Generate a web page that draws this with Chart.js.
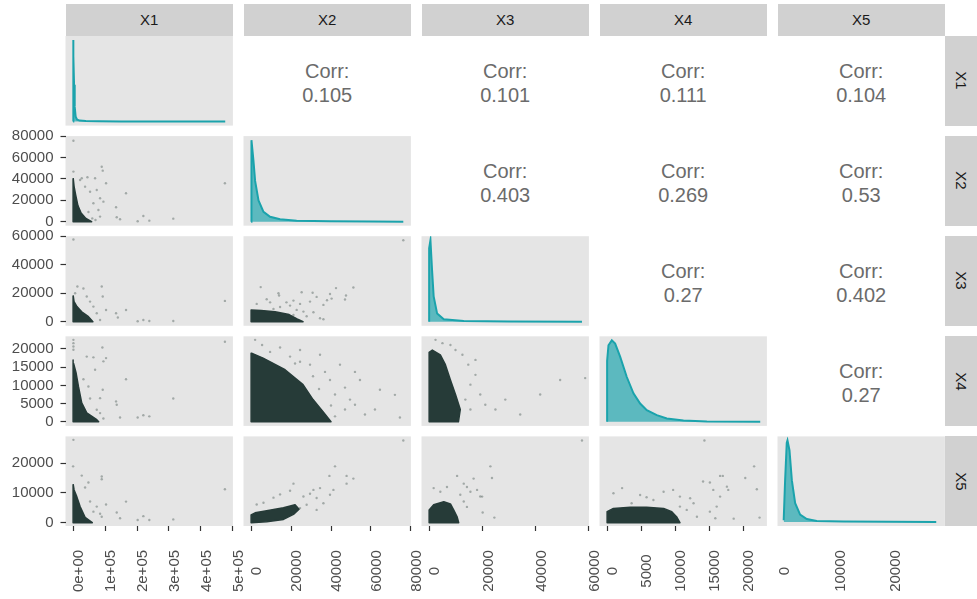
<!DOCTYPE html>
<html>
<head>
<meta charset="utf-8">
<title>ggpairs X1-X5</title>
<script src="https://cdn.jsdelivr.net/npm/chart.js@4.4.1/dist/chart.umd.min.js"></script>
<style>
  body { margin: 0; background: #fff; font-family: "Liberation Sans", Arial, sans-serif; }
  #plot { position: relative; width: 977px; height: 599px; overflow: hidden; }
  #plot canvas { position: absolute; }
  .strip { position: absolute; background: #D1D1D1; color: #1A1A1A; font-size: 15px;
           display: flex; align-items: center; justify-content: center; }
  .strip.right span { display: inline-block; transform: rotate(90deg); }
  .corr { position: absolute; color: #6B6B6B; font-size: 20px; line-height: 24px;
          display: flex; flex-direction: column; align-items: center; justify-content: center; }
</style>
</head>
<body>
<div id="plot"></div>
<script>
// variables and correlations (upper triangle, row by row)
const varNames = ['X1', 'X2', 'X3', 'X4', 'X5'];
const corrX1 = [0.105, 0.101, 0.111, 0.104];
const corrX2 = [0.403, 0.269, 0.53];
const corrX3 = [0.27, 0.402];
const corrX4 = [0.27];

// axis domains (same for a variable on x and y)
const axisMin = [-23790, -3810, -2870, -1120, -1111];
const axisMax = [500000, 80000, 60000, 23480, 28956];

const ticksX1 = [0, 100000, 200000, 300000, 400000, 500000];
const labelsX1 = ['0e+00', '1e+05', '2e+05', '3e+05', '4e+05', '5e+05'];
const ticksX2 = [0, 20000, 40000, 60000, 80000];
const ticksX3 = [0, 20000, 40000, 60000];
const ticksX4 = [0, 5000, 10000, 15000, 20000];
const ticksX5 = [0, 10000, 20000];

// diagonal densities [value, density relative to peak]
const densX1 = [[0, 0], [0, 1.0], [1500, 0.8], [3000, 0.45], [5000, 0.18], [8000, 0.06], [12000, 0.025],
  [20000, 0.012], [40000, 0.005], [80000, 0.002], [150000, 0.0005], [476000, 0]];
const densX2 = [[0, 0], [0, 0.92], [350, 1.0], [1170, 0.75], [2000, 0.5], [3700, 0.26], [6200, 0.12],
  [9500, 0.06], [14500, 0.03], [22800, 0.012], [39500, 0.005], [60000, 0.002], [76200, 0]];
const densX3 = [[0, 0], [0, 0.9], [490, 1.0], [1100, 0.63], [1700, 0.31], [3000, 0.10], [5500, 0.03],
  [13000, 0.008], [30000, 0.002], [57400, 0]];
const densX4 = [[0, 0], [0, 0.75], [200, 0.94], [690, 1.0], [1180, 0.96], [1910, 0.80], [2890, 0.55],
  [3870, 0.35], [4850, 0.225], [5830, 0.143], [7300, 0.082], [8770, 0.041], [11220, 0.017],
  [14660, 0.005], [22500, 0]];
const densX5 = [[0, 0.02], [250, 0.5], [550, 0.97], [680, 1.0], [1040, 0.88], [1470, 0.51], [2060, 0.23],
  [2950, 0.09], [4150, 0.036], [5940, 0.012], [10700, 0.004], [27400, 0]];

// scatter panels: dense core outline and the sparse points around it [x, y]
const coreX1X2 = [[0, 0], [58000, 0], [40000, 3000], [25000, 8000], [15000, 15000], [8000, 25000],
  [3000, 33000], [500, 40000], [0, 40000]];
const ptsX1X2 = [[1000, 75700], [89600, 51400], [92700, 47700], [103100, 35900], [165600, 26500],
  [134400, 13400], [136500, 4100], [146900, 2200], [202000, 400], [219800, 5300], [238500, 900],
  [313500, 2800], [475000, 35900], [68750, 40600], [44800, 41500], [27100, 40600], [74000, 29600],
  [84400, 21900], [94800, 18700], [63500, 17200], [79200, 10900], [84400, 4700], [21900, 39000],
  [37500, 32700], [53100, 28000], [1000, 46800], [60000, 3000], [70000, 1500], [48000, 9000]];

const coreX1X3 = [[0, 0], [62000, 0], [48000, 3500], [27000, 7000], [12000, 10600], [3000, 14000],
  [500, 18000], [0, 18000]];
const ptsX1X3 = [[1000, 57700], [13400, 24700], [6300, 20000], [89600, 24700], [92700, 17650],
  [103100, 8260], [165600, 8260], [134400, 5900], [140000, 3000], [202000, 300], [219800, 1200],
  [238500, 500], [313500, 500], [475000, 14600], [42700, 17650], [63500, 10600], [74000, 5900],
  [53100, 14100], [32300, 23300], [84400, 1200]];

const coreX1X4 = [[0, 0], [80000, 0], [74000, 600], [42700, 2460], [27000, 5200], [16700, 9700],
  [9400, 13400], [1500, 16000], [0, 17000]];
const ptsX1X4 = [[1000, 22500], [1000, 21600], [1000, 20700], [1000, 19800], [91600, 20400],
  [103100, 17500], [94800, 16600], [42700, 17900], [63500, 17700], [68750, 14300], [165600, 11700],
  [92700, 8800], [84400, 6500], [134400, 5600], [136500, 4700], [146900, 1200], [202000, 1200],
  [219800, 1800], [238500, 1500], [313500, 6400], [475000, 22000], [84400, 2400], [94800, 900],
  [74000, 3300], [53100, 6400], [47900, 9700], [32300, 11700]];

const coreX1X5 = [[0, 0], [60000, 0], [37500, 1800], [21900, 5400], [11500, 8750], [3100, 11000],
  [500, 12700], [0, 12700]];
const ptsX1X5 = [[1000, 27800], [0, 18900], [89600, 15500], [89600, 14600], [27100, 15800],
  [47900, 13500], [37500, 11800], [165600, 7070], [136500, 3400], [146900, 1500], [103100, 6100],
  [84400, 3000], [89600, 2000], [202000, 900], [219800, 2200], [238500, 900], [313500, 1100],
  [475000, 11200], [74000, 5400], [63500, 3700], [53100, 7100]];

const coreX2X3 = [[0, 0], [26000, 0], [23000, 2000], [19000, 5000], [12000, 7000], [5000, 7800], [0, 8200]];
const ptsX2X3 = [[76200, 57200], [4800, 24300], [13700, 20000], [14000, 18400], [25300, 20700],
  [30800, 20300], [42500, 23600], [51200, 24000], [47500, 18400], [47000, 15600], [39500, 19400],
  [40300, 16200], [32800, 17400], [36200, 11800], [29500, 14100], [24500, 12500], [21200, 14800],
  [19500, 11300], [17700, 13600], [31200, 6600], [34500, 2400], [36200, 1700], [27800, 3800],
  [7800, 15800], [9500, 13600], [2800, 12500], [11200, 9000], [22800, 8300], [26200, 7100],
  [21200, 4700], [38000, 15100], [14500, 10300]];

const coreX2X4 = [[0, 0], [40000, 0], [36000, 2800], [31000, 6100], [26000, 10200], [17000, 14300],
  [6000, 17500], [500, 18800], [0, 18800]];
const ptsX2X4 = [[2000, 22500], [5500, 21100], [24500, 19700], [34500, 18400], [44500, 15700],
  [52000, 13700], [54500, 11500], [64500, 8800], [72000, 7400], [49500, 6100], [47000, 3400],
  [57000, 2000], [74500, 1200], [39500, 11500], [29500, 15700], [14500, 20400], [9500, 19200],
  [42000, 7500], [47000, 9400], [52000, 4700], [62000, 3400], [19500, 17900], [24500, 16500],
  [37000, 13700], [42000, 1500], [40000, 4500], [34000, 9000], [31000, 12500], [22000, 16000]];

const coreX3X4 = [[0, 0], [11000, 0], [11700, 3400], [9900, 7500], [8000, 11500], [6100, 15700],
  [4200, 18400], [1200, 19700], [0, 19100]];
const ptsX3X4 = [[2400, 22500], [5000, 21600], [8000, 21100], [12500, 18400], [14700, 15700],
  [17400, 12900], [15500, 10200], [19200, 7500], [21100, 4700], [24900, 3400], [28600, 6100],
  [34200, 2000], [41700, 7500], [49200, 11500], [58600, 12000], [15500, 3400], [13600, 6100],
  [17400, 17000], [9900, 19700]];

const coreX2X5 = [[0, 0], [7800, 300], [16200, 1100], [21200, 2800], [24000, 4500], [22000, 6000],
  [16200, 5000], [7800, 4000], [2000, 3300], [0, 2600]];
const ptsX2X5 = [[76200, 27600], [42000, 18900], [39200, 15700], [47800, 15700], [51200, 14800],
  [47800, 13100], [34500, 11600], [31200, 11000], [29500, 9700], [21200, 13100], [19500, 10700],
  [14500, 9500], [11200, 8400], [6200, 6700], [2800, 6100], [26200, 8800], [32800, 8300],
  [36200, 6500], [39500, 9400], [41200, 11000], [27800, 6000], [24500, 4900], [32800, 4300]];

const coreX3X5 = [[0, 0], [11100, 0], [10500, 2000], [9200, 4300], [8000, 6300], [5500, 7000],
  [1700, 6000], [0, 4300]];
const ptsX3X5 = [[1700, 11600], [4200, 10400], [6700, 12000], [10500, 15700], [13000, 13100],
  [14200, 12000], [15500, 10400], [16700, 14800], [18000, 11000], [19200, 8800], [11700, 9400],
  [23000, 18900], [23600, 15000], [20100, 3400], [24500, 1700], [14200, 5300], [13000, 7100],
  [57400, 27600], [19900, 8750]];

const coreX4X5 = [[0, 0], [10700, 0], [10200, 2000], [9500, 3700], [8300, 4800], [5800, 5200],
  [3400, 5200], [930, 4800], [0, 3700]];
const ptsX4X5 = [[14300, 27600], [21600, 18900], [20300, 15000], [22000, 11200], [22400, 1700],
  [16600, 15700], [17000, 15700], [14100, 13800], [15100, 13500], [15600, 11000], [17600, 12100],
  [17800, 11000], [16600, 8750], [16100, 5400], [15100, 3700], [15900, 1500], [18600, 1350],
  [930, 9900], [2200, 11600], [6800, 7600], [8300, 10400], [9700, 11000], [10700, 8750],
  [12700, 6500], [11700, 4300], [13200, 2000], [4850, 9300], [3600, 6500], [5800, 8550],
  [10700, 5400], [12200, 8200]];

// layout of the panel grid (pixels)
const colLeft = [65.5, 243.5, 421.5, 599.5, 777.5];
const rowTop = [36, 136.1, 236.2, 336.3, 436.4];
const panelW = 167.4;
const panelH = 89.6;
const labelShift = [6, 6, 6, 5.5, 1];

const tickValues = [ticksX1, ticksX2, ticksX3, ticksX4, ticksX5];
const tickText = [labelsX1, ticksX2.map(String), ticksX3.map(String), ticksX4.map(String), ticksX5.map(String)];
const densities = [densX1, densX2, densX3, densX4, densX5];
const corrRows = [corrX1, corrX2, corrX3, corrX4];
const scatters = [
  { x: 0, y: 1, core: coreX1X2, pts: ptsX1X2 },
  { x: 0, y: 2, core: coreX1X3, pts: ptsX1X3 },
  { x: 1, y: 2, core: coreX2X3, pts: ptsX2X3 },
  { x: 0, y: 3, core: coreX1X4, pts: ptsX1X4 },
  { x: 1, y: 3, core: coreX2X4, pts: ptsX2X4 },
  { x: 2, y: 3, core: coreX3X4, pts: ptsX3X4 },
  { x: 0, y: 4, core: coreX1X5, pts: ptsX1X5 },
  { x: 1, y: 4, core: coreX2X5, pts: ptsX2X5 },
  { x: 2, y: 4, core: coreX3X5, pts: ptsX3X5 },
  { x: 3, y: 4, core: coreX4X5, pts: ptsX4X5 }
];

const FONT = '"Liberation Sans", Arial, sans-serif';
Chart.defaults.font.family = FONT;
const plot = document.getElementById('plot');

function addBox(cls, left, top, w, h, html) {
  const d = document.createElement('div');
  d.className = cls;
  d.style.left = left + 'px';
  d.style.top = top + 'px';
  d.style.width = w + 'px';
  d.style.height = h + 'px';
  d.innerHTML = html;
  plot.appendChild(d);
}

// strips on top and on the right
varNames.forEach((name, i) => {
  addBox('strip', colLeft[i], 3.5, panelW, 32, name);
  addBox('strip right', 945, rowTop[i], 32, panelH, '<span>' + name + '</span>');
});

// correlation text in the upper triangle
corrRows.forEach((vals, r) => {
  vals.forEach((v, k) => {
    const c = r + 1 + k;
    addBox('corr', colLeft[c], rowTop[r] + 2, panelW, panelH, '<div>Corr:</div><div>' + String(v) + '</div>');
  });
});

const panelBg = {
  id: 'panelBg',
  beforeDraw(chart) {
    const { ctx, chartArea: a } = chart;
    ctx.save();
    ctx.fillStyle = '#E5E5E5';
    ctx.fillRect(a.left, a.top, a.width, a.height);
    ctx.restore();
  }
};

// rotated, centred tick labels under the bottom row
function rotatedLabels(c) {
  return {
    id: 'rotatedLabels',
    afterDraw(chart) {
      const s = chart.scales.x;
      const ctx = chart.ctx;
      ctx.save();
      ctx.fillStyle = '#4D4D4D';
      ctx.font = '15px ' + FONT;
      ctx.textAlign = 'center';
      ctx.textBaseline = 'middle';
      s.ticks.forEach((t, i) => {
        ctx.save();
        ctx.translate(s.getPixelForValue(t.value) + labelShift[c], chart.chartArea.bottom + 45);
        ctx.rotate(-Math.PI / 2);
        ctx.fillText(tickText[c][i], 0, 0);
        ctx.restore();
      });
      ctx.restore();
    }
  };
}

const toXY = arr => arr.map(p => ({ x: p[0], y: p[1] }));

function makeChart(r, c, datasets, yMin, yMax) {
  const L = colLeft[c], T = rowTop[r];
  const hasY = c === 0 && r > 0;
  const hasX = r === 4;
  const cl = hasY ? 0 : Math.floor(L - 10);
  const ct = Math.floor(T - 10);
  const cw = Math.ceil(L + panelW + 10) - cl;
  const ch = (hasX ? 599 : Math.ceil(T + panelH + 10)) - ct;
  const canvas = document.createElement('canvas');
  canvas.width = cw;
  canvas.height = ch;
  canvas.style.left = cl + 'px';
  canvas.style.top = ct + 'px';
  plot.appendChild(canvas);

  const bottomSpace = ch - (T + panelH - ct);
  const plugins = [panelBg];
  if (hasX) plugins.push(rotatedLabels(c));

  return new Chart(canvas, {
    type: 'scatter',
    data: { datasets },
    options: {
      responsive: false,
      animation: false,
      events: [],
      layout: {
        padding: {
          left: hasY ? 0 : L - cl,
          top: T - ct,
          right: cw - (L + panelW - cl),
          bottom: hasX ? 0 : bottomSpace
        }
      },
      plugins: { legend: { display: false }, tooltip: { enabled: false } },
      scales: {
        x: {
          type: 'linear',
          position: 'bottom',
          min: axisMin[c],
          max: axisMax[c],
          display: hasX,
          border: { display: false },
          grid: { drawOnChartArea: false, drawTicks: c !== 4, tickLength: 5, tickColor: '#333333', tickWidth: 1.2 },
          ticks: { display: false },
          afterBuildTicks: s => { s.ticks = tickValues[c].map(v => ({ value: v })); },
          afterFit: s => {
            if (!hasX) return;
            s.height = bottomSpace;
            s.paddingLeft = 0;
            s.paddingRight = 0;
          }
        },
        y: {
          type: 'linear',
          position: 'left',
          min: yMin,
          max: yMax,
          display: hasY,
          border: { display: false },
          grid: { drawOnChartArea: false, tickLength: 5, tickColor: '#333333', tickWidth: 1.2 },
          ticks: {
            autoSkip: false,
            padding: 7,
            color: '#4D4D4D',
            font: { size: 15 },
            callback: v => String(v)
          },
          afterBuildTicks: s => { if (hasY) s.ticks = tickValues[r].map(v => ({ value: v })); },
          afterFit: s => {
            if (!hasY) return;
            s.width = L;
            s.paddingTop = 0;
            s.paddingBottom = 0;
          }
        }
      }
    },
    plugins
  });
}

// diagonal: densities
densities.forEach((d, i) => {
  makeChart(i, i, [{
    type: 'line',
    data: toXY(d),
    fill: 'origin',
    borderColor: '#1BA3AC',
    backgroundColor: 'rgba(27,163,172,0.68)',
    borderWidth: 2,
    pointRadius: 0,
    tension: 0
  }], -0.05, 1.05);
});

// lower triangle: scatter plots
scatters.forEach(p => {
  makeChart(p.y, p.x, [
    {
      data: toXY(p.pts),
      pointRadius: 1.2,
      pointBackgroundColor: 'rgba(36,56,53,0.35)',
      pointBorderWidth: 0
    },
    {
      type: 'line',
      data: toXY(p.core.concat([p.core[0]])),
      fill: 'shape',
      backgroundColor: '#263B38',
      borderColor: '#263B38',
      borderWidth: 1.5,
      borderJoinStyle: 'round',
      pointRadius: 0,
      tension: 0
    }
  ], axisMin[p.y], axisMax[p.y]);
});
</script>
</body>
</html>
